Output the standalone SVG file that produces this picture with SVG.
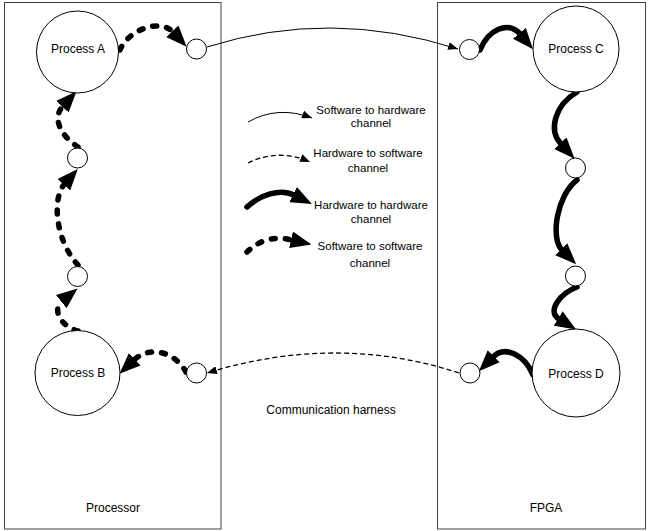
<svg xmlns="http://www.w3.org/2000/svg" width="649" height="531" viewBox="0 0 649 531">
<style>
  .box { fill: none; stroke: #404040; stroke-width: 1; }
  .proc { fill: #fff; stroke: #000; stroke-width: 1; }
  .port { fill: #fff; stroke: #000; stroke-width: 1; }
  text { font-family: "Liberation Sans", Arial, sans-serif; font-size: 12px; fill: #000; text-anchor: middle; }
  .leg { font-size: 11.5px; }
  .thin { fill: none; stroke: #000; stroke-width: 1; }
  .thindash { fill: none; stroke: #000; stroke-width: 1.3; stroke-dasharray: 5 3; }
  .thick { fill: none; stroke: #000; stroke-width: 5.5; stroke-linecap: round; }
  .thickdash { fill: none; stroke: #000; stroke-width: 5.5; stroke-linecap: round; stroke-dasharray: 4 10; }
</style>
<defs>
  <marker id="arrThin" viewBox="0 0 10 8" markerWidth="10" markerHeight="8" refX="10" refY="4" orient="auto" markerUnits="userSpaceOnUse">
    <path d="M0,0 L10,4 L0,8 z" fill="#000"/>
  </marker>
  <marker id="arrThick" viewBox="0 0 21 17" markerWidth="21" markerHeight="17" refX="1" refY="8.5" orient="auto" markerUnits="userSpaceOnUse">
    <path d="M0,0 L21,8.5 L0,17 z" fill="#000"/>
  </marker>
</defs>

<g id="processor">
  <rect class="box" x="4.5" y="2.5" width="216.5" height="526.5"/>
  <text x="113" y="512">Processor</text>
</g>
<g id="fpga">
  <rect class="box" x="437.5" y="2.5" width="208" height="526.5"/>
  <text x="546" y="512">FPGA</text>
</g>
<g id="harness-label">
  <text x="331" y="414">Communication harness</text>
</g>

<g id="connectors">
  <path class="thickdash" d="M120,50 C128,30 160,18 173,32" marker-end="url(#arrThick)"/>
  <path class="thickdash" d="M78,147 C60,135 52,118 63,106" marker-end="url(#arrThick)"/>
  <path class="thickdash" d="M78,265 C55,240 52,198 64.5,184" marker-end="url(#arrThick)"/>
  <path class="thickdash" d="M78,331 C60,326 52,309 62,301" marker-end="url(#arrThick)"/>
  <path class="thickdash" d="M186,372 C175,352 150,345 134,360" marker-end="url(#arrThick)"/>
  <path class="thick" d="M480,50 C488,30 508,20 520,34" marker-end="url(#arrThick)"/>
  <path class="thick" d="M577,92 C555,105 548,130 561,144" marker-end="url(#arrThick)"/>
  <path class="thick" d="M577,180 C557,195 550,238 562,250" marker-end="url(#arrThick)"/>
  <path class="thick" d="M577,287 C561,293 546,311 559,319" marker-end="url(#arrThick)"/>
  <path class="thick" d="M533,375 C525,355 505,345 493,357" marker-end="url(#arrThick)"/>
  <path class="thin" d="M207,47 Q330,8 458,49" marker-end="url(#arrThin)"/>
  <path class="thindash" d="M459,373 Q337,333 207,373" marker-end="url(#arrThin)"/>
</g>

<g id="processA">
  <circle class="proc" cx="77.5" cy="52" r="41"/>
  <text x="78" y="53">Process A</text>
</g>
<g id="processB">
  <circle class="proc" cx="77.5" cy="373" r="42.5"/>
  <text x="78" y="377">Process B</text>
</g>
<g id="processC">
  <circle class="proc" cx="576" cy="49" r="43"/>
  <text x="576" y="53">Process C</text>
</g>
<g id="processD">
  <circle class="proc" cx="576" cy="373" r="44"/>
  <text x="576" y="378">Process D</text>
</g>

<g id="portA"><circle class="port" cx="196.5" cy="49" r="10"/></g>
<g id="portL1"><circle class="port" cx="77.5" cy="158" r="10"/></g>
<g id="portL2"><circle class="port" cx="77.5" cy="276.5" r="10"/></g>
<g id="portB"><circle class="port" cx="196.5" cy="373" r="10"/></g>
<g id="portC"><circle class="port" cx="469.5" cy="49.5" r="10"/></g>
<g id="portR1"><circle class="port" cx="575.5" cy="168" r="10"/></g>
<g id="portR2"><circle class="port" cx="575.5" cy="276" r="10"/></g>
<g id="portD"><circle class="port" cx="470" cy="373" r="10"/></g>

<g id="legend">
  <path class="thin" d="M248,122 Q278,105 312,118" marker-end="url(#arrThin)"/>
  <text class="leg" x="371" y="114">Software to hardware</text>
  <text class="leg" x="371" y="127">channel</text>
  <path class="thindash" d="M248,163 Q278,148 310,162" marker-end="url(#arrThin)"/>
  <text class="leg" x="368" y="157">Hardware to software</text>
  <text class="leg" x="368" y="172">channel</text>
  <path class="thick" d="M247,207 C260,195 280,188 294,195" marker-end="url(#arrThick)"/>
  <text class="leg" x="371" y="209">Hardware to hardware</text>
  <text class="leg" x="371" y="223">channel</text>
  <path class="thickdash" d="M247,252 C256,243 270,235 292,240" marker-end="url(#arrThick)"/>
  <text class="leg" x="370" y="250">Software to software</text>
  <text class="leg" x="370" y="267">channel</text>
</g>
</svg>
